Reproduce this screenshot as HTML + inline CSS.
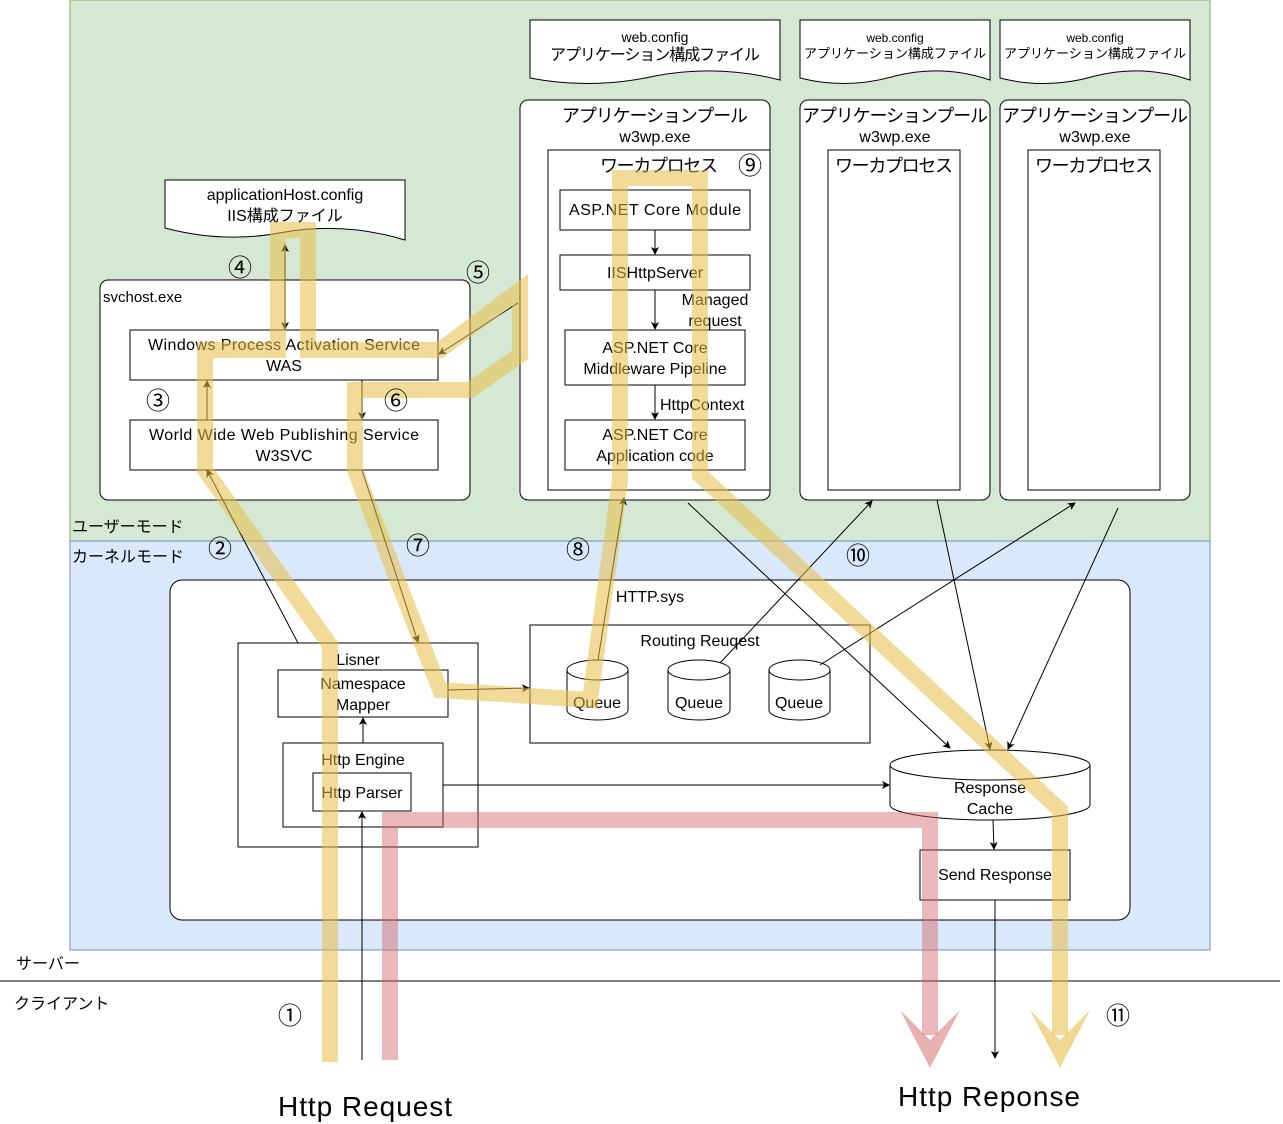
<!DOCTYPE html>
<html><head><meta charset="utf-8"><style>
html,body{margin:0;padding:0;background:#fff}
svg{display:block;font-family:"Liberation Sans","Noto Sans CJK JP",sans-serif}
text{fill:#000}
</style></head><body>
<svg width="1283" height="1124" viewBox="0 0 1283 1124" xmlns="http://www.w3.org/2000/svg">
<defs>
<marker id="a" markerWidth="8" markerHeight="8" refX="7" refY="4" orient="auto" markerUnits="userSpaceOnUse"><path d="M0,0 L8,4 L0,8 L2,4 Z" fill="#000"/></marker>
</defs>
<rect x="70" y="0" width="1140" height="541" fill="#d5e8d4" stroke="#82b366"/>
<rect x="70" y="541" width="1140" height="409" fill="#dae8fc" stroke="#6c8ebf"/>
<line x1="0" y1="981" x2="1280" y2="981" stroke="#000"/>
<g font-size="16">
<text x="72" y="532">ユーザーモード</text>
<text x="72" y="562">カーネルモード</text>
<text x="16" y="969">サーバー</text>
<text x="14" y="1009">クライアント</text>
</g>
<g fill="#fff" stroke="#000">
<path d="M165,180 H405 V240 Q345,222 285,232 Q225,244 165,228 Z"/>
<path d="M530,20 H780 V80 Q718,64 655,76 Q592,90 530,78 Z"/>
<path d="M800,20 H990 V80 Q943,64 895,76 Q847,90 800,78 Z"/>
<path d="M1000,20 H1190 V80 Q1143,64 1095,76 Q1047,90 1000,78 Z"/>
</g>
<g text-anchor="middle">
<text x="285" y="200" font-size="16">applicationHost.config</text>
<text x="285" y="221" font-size="16">IIS構成ファイル</text>
<text x="655" y="42" font-size="14">web.config</text>
<text x="655" y="60" font-size="16" textLength="210">アプリケーション構成ファイル</text>
<text x="895" y="42" font-size="12">web.config</text>
<text x="895" y="58" font-size="13" textLength="182">アプリケーション構成ファイル</text>
<text x="1095" y="42" font-size="12">web.config</text>
<text x="1095" y="58" font-size="13" textLength="182">アプリケーション構成ファイル</text>
</g>
<rect x="100" y="280" width="370" height="220" rx="8" fill="#fff" stroke="#000"/>
<text x="103" y="302" font-size="15">svchost.exe</text>
<rect x="130" y="330" width="308" height="50" fill="#fff" stroke="#000"/>
<rect x="130" y="420" width="308" height="50" fill="#fff" stroke="#000"/>
<g text-anchor="middle" font-size="16">
<text x="284" y="350" textLength="272">Windows Process Activation Service</text>
<text x="284" y="371">WAS</text>
<text x="284" y="440" textLength="270">World Wide Web Publishing Service</text>
<text x="284" y="461">W3SVC</text>
</g>
<g fill="#fff" stroke="#000">
<rect x="520" y="100" width="250" height="400" rx="8"/>
<rect x="548" y="150" width="222" height="340"/>
<rect x="800" y="100" width="190" height="400" rx="8"/>
<rect x="828" y="150" width="132" height="340"/>
<rect x="1000" y="100" width="190" height="400" rx="8"/>
<rect x="1028" y="150" width="132" height="340"/>
<rect x="560" y="190" width="190" height="40"/>
<rect x="560" y="255" width="190" height="35"/>
<rect x="565" y="330" width="180" height="55"/>
<rect x="565" y="420" width="180" height="50"/>
</g>
<g text-anchor="middle" font-size="18">
<text x="655" y="122" textLength="186">アプリケーションプール</text>
<text x="895" y="122" textLength="186">アプリケーションプール</text>
<text x="1095" y="122" textLength="186">アプリケーションプール</text>
<text x="659" y="172" textLength="118">ワーカプロセス</text>
<text x="894" y="172" textLength="118">ワーカプロセス</text>
<text x="1094" y="172" textLength="118">ワーカプロセス</text>
</g>
<g text-anchor="middle" font-size="16">
<text x="655" y="142">w3wp.exe</text>
<text x="895" y="142">w3wp.exe</text>
<text x="1095" y="142">w3wp.exe</text>
<text x="655" y="215" textLength="172">ASP.NET Core Module</text>
<text x="655" y="278">IISHttpServer</text>
<text x="655" y="353">ASP.NET Core</text>
<text x="655" y="374">Middleware Pipeline</text>
<text x="655" y="440">ASP.NET Core</text>
<text x="655" y="461">Application code</text>
<text x="715" y="305">Managed</text>
<text x="715" y="326">request</text>
</g>
<text x="660" y="410" font-size="16">HttpContext</text>
<g stroke="#000" marker-end="url(#a)">
<line x1="655" y1="230" x2="655" y2="254"/>
<line x1="655" y1="290" x2="655" y2="329"/>
<line x1="655" y1="385" x2="655" y2="419"/>
</g>
<rect x="170" y="580" width="960" height="340" rx="12" fill="#fff" stroke="#000"/>
<text x="650" y="602" font-size="16" text-anchor="middle">HTTP.sys</text>
<g fill="#fff" stroke="#000">
<rect x="238" y="643" width="240" height="204"/>
<rect x="278" y="670" width="170" height="47"/>
<rect x="283" y="743" width="160" height="84"/>
<rect x="313" y="773" width="98" height="38"/>
<rect x="530" y="625" width="340" height="118"/>
<rect x="920" y="850" width="150" height="50"/>
</g>
<g text-anchor="middle" font-size="16">
<text x="358" y="665">Lisner</text>
<text x="363" y="689">Namespace</text>
<text x="363" y="710">Mapper</text>
<text x="363" y="765">Http Engine</text>
<text x="362" y="798">Http Parser</text>
<text x="700" y="646">Routing Reuqest</text>
<text x="995" y="880">Send Response</text>
</g>
<g fill="#fff" stroke="#000">
<path d="M567,670 V710 A30.5,10 0 0 0 628,710 V670"/><ellipse cx="597.5" cy="670" rx="30.5" ry="10"/>
<path d="M668,670 V710 A31,10 0 0 0 730,710 V670"/><ellipse cx="699" cy="670" rx="31" ry="10"/>
<path d="M769,670 V710 A30.5,10 0 0 0 830,710 V670"/><ellipse cx="799.5" cy="670" rx="30.5" ry="10"/>
<path d="M890,765 V805 A100,15 0 0 0 1090,805 V765"/><ellipse cx="990" cy="765" rx="100" ry="15"/>
</g>
<g text-anchor="middle" font-size="16">
<text x="597" y="708">Queue</text>
<text x="699" y="708">Queue</text>
<text x="799" y="708">Queue</text>
<text x="990" y="793">Response</text>
<text x="990" y="814">Cache</text>
</g>
<g stroke="#000" fill="none" marker-end="url(#a)">
<line x1="298" y1="643" x2="207" y2="470"/>
<line x1="207" y1="420" x2="207" y2="381"/>
<line x1="285" y1="330" x2="285" y2="245"/>
<line x1="285" y1="250" x2="285" y2="329"/>
<line x1="362" y1="380" x2="362" y2="419"/>
<line x1="362" y1="470" x2="418" y2="642"/>
<line x1="518" y1="303" x2="439" y2="354"/>
<line x1="448" y1="690" x2="529" y2="688"/>
<line x1="598" y1="660" x2="624" y2="498"/>
<line x1="720" y1="663" x2="872" y2="501"/>
<line x1="820" y1="665" x2="1075" y2="503"/>
<line x1="688" y1="503" x2="950" y2="748"/>
<line x1="937" y1="500" x2="990" y2="749"/>
<line x1="1118" y1="508" x2="1008" y2="749"/>
<line x1="443" y1="785" x2="889" y2="785"/>
<line x1="363" y1="743" x2="363" y2="718"/>
<line x1="362" y1="1060" x2="362" y2="812"/>
<line x1="993" y1="820" x2="994" y2="849"/>
<line x1="995" y1="900" x2="995" y2="1058"/>
</g>
<g fill="none" stroke-linejoin="miter">
<path d="M390,1060 V820 H930 V1035" stroke="rgb(210,100,100)" stroke-opacity="0.45" stroke-width="16"/>
<path d="M330,1062 V645 L205,470 V350 H278 V230 H308 V350 H440 L520,290 V355 L470,390 H355 V470 L440,690 L590,700 L620,480 V178 H700 V475 L1060,810 V1035" stroke="rgb(232,190,70)" stroke-opacity="0.55" stroke-width="16"/>
</g>
<path d="M900,1010 L930,1040 L960,1010 L930,1068 Z" fill="rgb(210,100,100)" fill-opacity="0.5"/>
<path d="M1030,1010 L1060,1040 L1090,1010 L1060,1068 Z" fill="rgb(232,190,70)" fill-opacity="0.6"/>
<g font-size="24" text-anchor="middle">
<text x="290" y="1024">①</text>
<text x="220" y="557">②</text>
<text x="158" y="409">③</text>
<text x="240" y="276">④</text>
<text x="478" y="281">⑤</text>
<text x="396" y="409">⑥</text>
<text x="418" y="554">⑦</text>
<text x="578" y="558">⑧</text>
<text x="750" y="174">⑨</text>
<text x="858" y="564">⑩</text>
<text x="1118" y="1024">⑪</text>
</g>
<text x="278" y="1116" font-size="28" textLength="174">Http Request</text>
<text x="898" y="1106" font-size="28" textLength="182">Http Reponse</text>
</svg>
</body></html>
